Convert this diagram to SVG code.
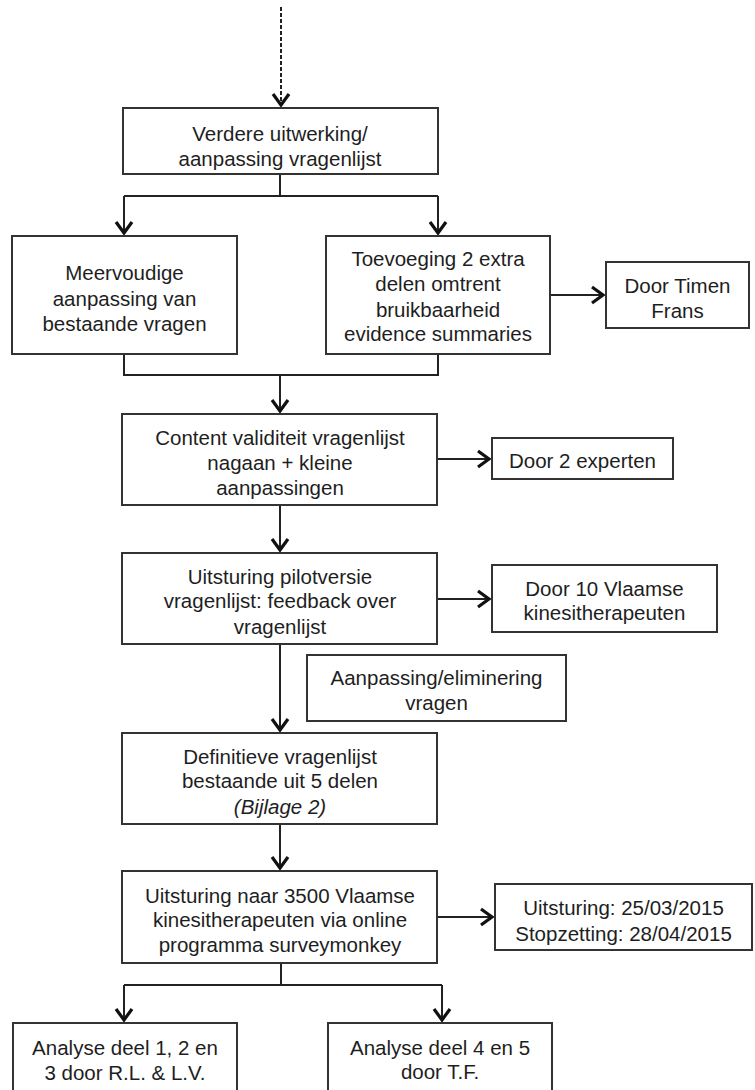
<svg xmlns="http://www.w3.org/2000/svg" width="755" height="1090" viewBox="0 0 755 1090">
<style>
.box{fill:#fff;stroke:#333;stroke-width:2}
.t{font-family:"Liberation Sans",Arial,sans-serif;font-size:20.5px;fill:#1e1e1e;text-anchor:middle;dominant-baseline:central}
.i{font-style:italic}
.c{fill:none;stroke:#222;stroke-width:2}
.a{marker-end:url(#arr)}
</style>
<defs>
<marker id="arr" markerUnits="userSpaceOnUse" viewBox="-14 -11 17 22" refX="0" refY="0" markerWidth="17" markerHeight="22" orient="auto">
<path d="M-11,-8 L0,0 L-11,8" fill="none" stroke="#111" stroke-width="3.2" stroke-linejoin="miter"/>
</marker>
</defs>
<rect width="755" height="1090" fill="#fff"/>
<g id="connectors">
<path class="c a" d="M281,7 V105" stroke-dasharray="4,2" stroke="#333"/>
<path class="c" d="M280,174 V196 M124,196 H438"/>
<path class="c a" d="M124,196 V233"/>
<path class="c a" d="M438,196 V233"/>
<path class="c a" d="M550,295 H603"/>
<path class="c" d="M124,354 V375 H438 V354"/>
<path class="c a" d="M280,375 V411"/>
<path class="c a" d="M437,459 H489"/>
<path class="c a" d="M280,505 V550"/>
<path class="c a" d="M437,599 H489"/>
<path class="c a" d="M280,644 V730"/>
<path class="c a" d="M280,824 V868"/>
<path class="c a" d="M437,917 H492"/>
<path class="c" d="M281,963 V985 M124,985 H442"/>
<path class="c a" d="M124,985 V1020"/>
<path class="c a" d="M442,985 V1020"/>
</g>
<g id="n1"><rect class="box" x="123" y="108" width="315" height="66"/>
<text class="t" x="280" y="133">Verdere uitwerking/</text><text class="t" x="280" y="158">aanpassing vragenlijst</text></g>
<g id="n2"><rect class="box" x="12" y="236" width="225" height="118"/>
<text class="t" x="124.5" y="272">Meervoudige</text><text class="t" x="124.5" y="298">aanpassing van</text><text class="t" x="124.5" y="323">bestaande vragen</text></g>
<g id="n3"><rect class="box" x="326" y="236" width="224" height="118"/>
<text class="t" x="438" y="258">Toevoeging 2 extra</text><text class="t" x="438" y="283">delen omtrent</text><text class="t" x="438" y="309">bruikbaarheid</text><text class="t" x="438" y="333">evidence summaries</text></g>
<g id="n4"><rect class="box" x="606" y="262" width="143" height="66"/>
<text class="t" x="677.5" y="285">Door Timen</text><text class="t" x="677.5" y="310">Frans</text></g>
<g id="n5"><rect class="box" x="122" y="414" width="315" height="91"/>
<text class="t" x="280" y="437">Content validiteit vragenlijst</text><text class="t" x="280" y="462">nagaan + kleine</text><text class="t" x="280" y="487">aanpassingen</text></g>
<g id="n6"><rect class="box" x="492" y="438" width="181" height="41"/>
<text class="t" x="582.5" y="460">Door 2 experten</text></g>
<g id="n7"><rect class="box" x="122" y="553" width="315" height="91"/>
<text class="t" x="280" y="576">Uitsturing pilotversie</text><text class="t" x="280" y="600">vragenlijst: feedback over</text><text class="t" x="280" y="626">vragenlijst</text></g>
<g id="n8"><rect class="box" x="492" y="565" width="225" height="67"/>
<text class="t" x="604.5" y="588">Door 10 Vlaamse</text><text class="t" x="604.5" y="612">kinesitherapeuten</text></g>
<g id="n9"><rect class="box" x="307" y="655" width="259" height="66"/>
<text class="t" x="436.5" y="677">Aanpassing/eliminering</text><text class="t" x="436.5" y="702">vragen</text></g>
<g id="n10"><rect class="box" x="122" y="733" width="315" height="91"/>
<text class="t" x="280" y="756">Definitieve vragenlijst</text><text class="t" x="280" y="780">bestaande uit 5 delen</text><text class="t i" x="280" y="806">(Bijlage 2)</text></g>
<g id="n11"><rect class="box" x="122" y="871" width="315" height="92"/>
<text class="t" x="280" y="895">Uitsturing naar 3500 Vlaamse</text><text class="t" x="280" y="919">kinesitherapeuten via online</text><text class="t" x="280" y="944">programma surveymonkey</text></g>
<g id="n12"><rect class="box" x="495" y="884" width="257" height="66"/>
<text class="t" x="623.5" y="907">Uitsturing: 25/03/2015</text><text class="t" x="623.5" y="933">Stopzetting: 28/04/2015</text></g>
<g id="n13"><rect class="box" x="13" y="1023" width="224" height="80"/>
<text class="t" x="125" y="1047">Analyse deel 1, 2 en</text><text class="t" x="125" y="1072">3 door R.L. &amp; L.V.</text></g>
<g id="n14"><rect class="box" x="328" y="1023" width="224" height="80"/>
<text class="t" x="440" y="1047">Analyse deel 4 en 5</text><text class="t" x="440" y="1071">door T.F.</text></g>
</svg>
